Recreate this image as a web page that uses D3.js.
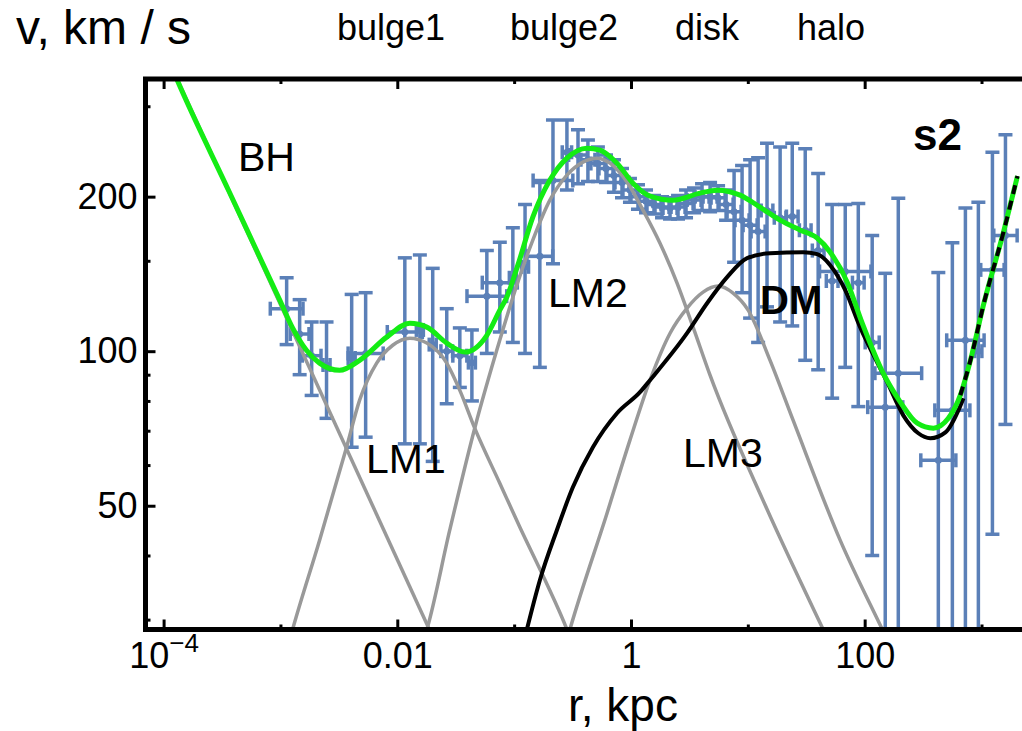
<!DOCTYPE html>
<html>
<head>
<meta charset="utf-8">
<script src="https://cdn.jsdelivr.net/npm/d3@7"></script>
<style>
  html, body { margin: 0; padding: 0; background: #fff; }
  svg { display: block; font-family: "Liberation Sans", Arial, sans-serif; }
</style>
</head>
<body>
<svg id="chart" width="1022" height="731"></svg>
<script>
// observed rotation curve: r (kpc), v (km/s), v error (km/s), r error (dex half width)
const obsR = [
  1.13e-3, 1.46e-3, 1.85e-3, 2.48e-3, 4.07e-3, 5.36e-3, 0.0116, 0.0156, 0.0201, 0.0265, 0.0343,
  0.0435, 0.0584, 0.0754, 0.0975, 0.124, 0.166, 0.215, 0.283, 0.352, 0.428,
  0.521, 0.611, 0.715, 0.838, 0.98, 1.148, 1.345, 1.574, 1.844, 2.159, 2.528,
  2.96, 3.466, 4.058, 4.753, 5.566, 6.516, 7.63, 8.93, 10.46, 12.25,
  14.6, 18.9, 24.0, 31.0, 40.0, 52.7, 68.2, 88.2, 116, 194, 150, 427, 563, 728, 940, 1240, 1603
]
const obsV = [
  121, 108, 98, 94, 97, 99, 109, 110, 103, 100, 98,
  95, 128, 136, 139, 146, 153, 215, 244, 241, 236,
  232, 227, 220, 213, 206, 200, 196, 193, 191, 190, 191,
  194, 197, 200, 200, 199, 193, 187, 180, 176, 171,
  188, 182, 183, 172, 157, 137, 143, 136, 104, 90.6, 77.8, 61.3, 76.7, 105, 100, 144, 168
]
const obsVErr = [
  18, 18, 16, 20, 32, 31, 43, 44, 42, 21, 13,
  15, 29, 27, 35, 47, 60, 67, 38, 29, 22,
  18, 14, 16, 14, 11, 11, 10, 8, 9, 9, 10,
  12, 11, 12, 13, 11, 13, 38, 50, 60, 67,
  66, 68, 71, 76, 65, 56, 50, 58, 64, 108, 64, 81, 86, 85, 95, 100, 96
]
const obsRErr = [
  0.14, 0.08, 0.08, 0.03, 0.03, 0.15, 0.15, 0.03, 0.03, 0.05, 0.06,
  0.03, 0.17, 0.15, 0.03, 0.03, 0.11, 0.17, 0.04, 0.08, 0.06,
  0.06, 0.06, 0.06, 0.06, 0.06, 0.06, 0.06, 0.06, 0.06, 0.06, 0.06,
  0.06, 0.06, 0.06, 0.06, 0.06, 0.06, 0.06, 0.06, 0.06, 0.06,
  0.05, 0.05, 0.05, 0.05, 0.05, 0.05, 0.22, 0.05, 0.06, 0.2, 0.15, 0.15, 0.15, 0.16, 0.03, 0.1, 0.1
]

// model components
const bhR = [1.17e-4, 2.26e-2]
const bhV = [358, 26.2]

const lm1R = [1.20e-3, 1.27e-3, 2.16e-3, 3.68e-3, 4.76e-3, 6.66e-3, 9.14e-3, 0.0128, 0.0179,
  0.0265, 0.0343, 0.046, 0.0754, 0.112, 0.183, 0.283, 0.306]
const lm1V = [27.4, 28.7, 42.8, 65.0, 80.3, 94.8, 102.7, 106.0, 103.7,
  94.8, 83.9, 70.8, 55.3, 45.4, 35.9, 28.7, 27.4]

const lm2R = [0.0168, 0.0179, 0.0281, 0.046, 0.0754, 0.1054, 0.1445, 0.2023, 0.283, 0.388, 0.512,
  0.661, 0.924, 1.267, 1.772, 2.48, 3.40, 4.75, 14.1, 44.2, 48.7]
const lm2V = [27.4, 28.7, 44.8, 70.8, 105.1, 134.5, 164.6, 196.9, 220.3, 233.5, 237.7,
  232.4, 213.5, 188.3, 162.3, 135.7, 111.4, 89.8, 50.1, 28.7, 27.4]

const lm3R = [0.283, 0.300, 0.623, 0.98, 1.455, 2.16, 3.02, 4.14, 5.57, 7.48, 10.06, 15.5, 24.4,
  61.8, 141.6, 156]
const lm3V = [27.4, 28.7, 48.3, 67.1, 87.8, 108.4, 121.3, 130.3, 133.9, 129.7, 120.2, 96.0, 73.4,
  42.8, 28.7, 27.4]

const dmR = [0.1164, 0.1285, 0.166, 0.232, 0.318, 0.472, 0.759, 1.194, 1.455, 3.02, 4.48,
  6.65, 9.86, 15.5, 29.8, 39.2, 50.7, 68.2, 89.9, 156, 214, 288, 365, 491, 634, 700]
const dmV = [26.2, 28.7, 35.8, 44.8, 54.3, 65.0, 75.7, 83.2, 87.8, 108.4, 124.0,
  139.4, 151.8, 155.2, 155.9, 154.5, 147.1, 131.5, 112.4, 87.0, 75.0, 69.2, 67.7, 69.5, 76.7, 81.0]

const totR = [1.17e-4, 1.31e-4, 3.66e-4, 9.82e-4, 1.27e-3, 1.67e-3, 2.16e-3, 3.21e-3, 4.76e-3,
  8.11e-3, 0.0128, 0.0179, 0.0265, 0.0378, 0.0584, 0.0754, 0.0865, 0.1076, 0.1445, 0.2023,
  0.283, 0.420, 0.542, 0.759, 1.04, 1.455, 2.29, 3.90, 5.46, 8.59, 12.7, 18.9, 28.1, 39.2,
  50.7, 70.9, 95.3, 144, 202, 282, 387, 520, 659, 804, 1038, 1542, 2031]
const totV = [358, 337, 204, 126, 111, 100.4, 94.8, 91.8, 96.0,
  106.5, 113.4, 111.4, 103.7, 99.6, 107.4, 120.2, 127.4, 147.1, 182.4, 215.4,
  237.7, 248.6, 246.4, 232.4, 212.5, 200.5, 196.9, 203.2, 205.9, 201.4, 190.8, 180.0, 172.1, 166.1,
  155.9, 136.3, 113.4, 90.6, 79.6, 72.4, 70.8, 74.0, 82.1, 96.0, 122.9, 170.6, 219.3]

const s2R = [659, 804, 1038, 1542, 2031]
const s2V = [82.1, 96.0, 122.9, 170.6, 219.3]

// axes
const xDomain = [7e-5, 2600]
const yDomain = [28.7, 339]
const xMajor = [1e-4, 0.01, 1, 100]
const xMajorText = ['10', '0.01', '1', '100']
const xMinor = [1e-3, 0.1, 10, 1000]
const yMajor = [50, 100, 200]
const yMinor = [30, 40, 60, 70, 80, 90, 150, 300]

const regionLabels = ['bulge1', 'bulge2', 'disk', 'halo']
const componentLabels = ['BH', 'LM1', 'LM2', 'LM3', 'DM', 's2']

const frame = { left: 145.5, top: 79, right: 1030, bottom: 629.5 }
const svg = d3.select('#chart')

const x = d3.scaleLog().domain(xDomain).range([frame.left, frame.right])
const y = d3.scaleLog().domain(yDomain).range([frame.bottom, frame.top])

svg.append('clipPath').attr('id', 'plot-clip')
  .append('rect')
  .attr('x', frame.left).attr('y', frame.top)
  .attr('width', frame.right - frame.left).attr('height', frame.bottom - frame.top)

const plot = svg.append('g').attr('clip-path', 'url(#plot-clip)')

// error bars
const blue = '#5b80b8'
const cap = 7
const points = obsR.map((r, i) => ({
  r, v: obsV[i], dv: obsVErr[i], dr: obsRErr[i]
}))
const bars = plot.append('g')
  .attr('stroke', blue)
  .attr('stroke-width', 3.5)
  .selectAll('g')
  .data(points)
  .enter()
  .append('g')

const yLow = (d) => y(Math.max(d.v - d.dv, 1))
const yHigh = (d) => y(d.v + d.dv)
const xLow = (d) => x(d.r / Math.pow(10, d.dr))
const xHigh = (d) => x(d.r * Math.pow(10, d.dr))

bars.append('line')
  .attr('x1', (d) => x(d.r)).attr('x2', (d) => x(d.r))
  .attr('y1', yLow).attr('y2', yHigh)
bars.append('line')
  .attr('x1', (d) => x(d.r) - cap).attr('x2', (d) => x(d.r) + cap)
  .attr('y1', yHigh).attr('y2', yHigh)
bars.append('line')
  .attr('x1', (d) => x(d.r) - cap).attr('x2', (d) => x(d.r) + cap)
  .attr('y1', yLow).attr('y2', yLow)
bars.append('line')
  .attr('x1', xLow).attr('x2', xHigh)
  .attr('y1', (d) => y(d.v)).attr('y2', (d) => y(d.v))
bars.append('line')
  .attr('x1', xLow).attr('x2', xLow)
  .attr('y1', (d) => y(d.v) - cap).attr('y2', (d) => y(d.v) + cap)
bars.append('line')
  .attr('x1', xHigh).attr('x2', xHigh)
  .attr('y1', (d) => y(d.v) - cap).attr('y2', (d) => y(d.v) + cap)
bars.append('circle')
  .attr('cx', (d) => x(d.r)).attr('cy', (d) => y(d.v))
  .attr('r', 3.5).attr('fill', blue).attr('stroke', 'none')

// curves
const line = d3.line()
  .x((d) => x(d[0]))
  .y((d) => y(d[1]))
  .curve(d3.curveMonotoneX)

const drawCurve = (rs, vs, color, width, dash) => {
  const p = plot.append('path')
    .datum(d3.zip(rs, vs))
    .attr('d', line)
    .attr('fill', 'none')
    .attr('stroke', color)
    .attr('stroke-width', width)
    .attr('stroke-linejoin', 'round')
  if (dash) p.attr('stroke-dasharray', dash)
  return p
}

drawCurve(bhR, bhV, '#999', 3.5)
drawCurve(lm1R, lm1V, '#999', 3.5)
drawCurve(lm2R, lm2V, '#999', 3.5)
drawCurve(lm3R, lm3V, '#999', 3.5)
drawCurve(dmR, dmV, '#000', 4)
drawCurve(totR, totV, '#14ec14', 5)
drawCurve(s2R, s2V, '#000', 4, '9,7')

// axes
const styleAxis = (g) => {
  g.select('.domain').remove()
  g.attr('font-size', 36).attr('font-family', '"Liberation Sans", Arial, sans-serif')
  g.selectAll('.tick line').attr('stroke', '#000').attr('stroke-width', 3)
  g.selectAll('.tick text').attr('fill', '#000')
}

svg.append('g')
  .attr('transform', `translate(${frame.left},0)`)
  .call(d3.axisLeft(y).tickValues(yMajor).tickSize(-10).tickPadding(8).tickFormat((d) => String(d)))
  .call(styleAxis)
svg.append('g')
  .attr('transform', `translate(${frame.left},0)`)
  .call(d3.axisLeft(y).tickValues(yMinor).tickSize(-5).tickFormat(''))
  .call(styleAxis)

const bottom = svg.append('g')
  .attr('transform', `translate(0,${frame.bottom})`)
  .call(d3.axisBottom(x).tickValues(xMajor).tickSize(-10).tickPadding(13)
    .tickFormat((d, i) => xMajorText[i]))
  .call(styleAxis)
bottom.selectAll('.tick text').filter((d) => d === 1e-4)
  .append('tspan')
  .attr('font-size', 26)
  .attr('dy', '-0.6em')
  .text('\u22124')
svg.append('g')
  .attr('transform', `translate(0,${frame.bottom})`)
  .call(d3.axisBottom(x).tickValues(xMinor).tickSize(-5).tickFormat(''))
  .call(styleAxis)

svg.append('g')
  .attr('transform', `translate(0,${frame.top})`)
  .call(d3.axisTop(x).tickValues(xMajor).tickSize(-10).tickFormat(''))
  .call(styleAxis)
svg.append('g')
  .attr('transform', `translate(0,${frame.top})`)
  .call(d3.axisTop(x).tickValues(xMinor).tickSize(-5).tickFormat(''))
  .call(styleAxis)

// frame (open on the right, cut by the page edge)
svg.append('path')
  .attr('d', `M${frame.right},${frame.top}H${frame.left}V${frame.bottom}H${frame.right}`)
  .attr('fill', 'none')
  .attr('stroke', '#000')
  .attr('stroke-width', 5)

// texts
const text = (str, px, py, size, opts = {}) => svg.append('text')
  .attr('x', px).attr('y', py)
  .attr('font-size', size)
  .attr('font-weight', opts.bold ? 'bold' : 'normal')
  .attr('text-anchor', opts.anchor || 'start')
  .attr('fill', '#000')
  .text(str)

text('v, km / s', 16, 44, 48)
text('r, kpc', 623, 721, 46, { anchor: 'middle' })

const regionX = [337, 510, 675, 797]
regionLabels.forEach((s, i) => text(s, regionX[i], 40, 36))

const compPos = [[238, 171, 41, false], [366, 473, 41, false], [548, 307, 41, false],
  [683, 467, 41, false], [760, 314, 40, true], [913, 150, 44, true]]
componentLabels.forEach((s, i) => {
  const [px, py, size, bold] = compPos[i]
  text(s, px, py, size, { bold })
})
</script>
</body>
</html>
